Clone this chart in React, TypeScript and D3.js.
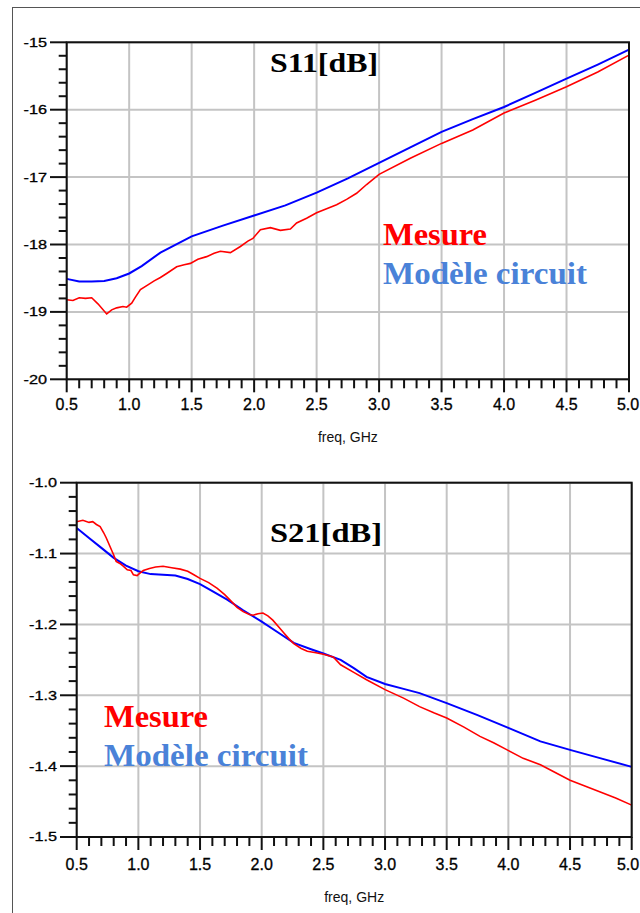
import React from "react";
import * as d3 from "d3";

// ---------- DATA ----------
const freqTicks = [0.5, 1.0, 1.5, 2.0, 2.5, 3.0, 3.5, 4.0, 4.5, 5.0];
const s11Ticks = [-15, -16, -17, -18, -19, -20];
const s21Ticks = [-1.0, -1.1, -1.2, -1.3, -1.4, -1.5];

const s11ModelFreq = [0.5, 0.6, 0.7, 0.8, 0.9, 1.0, 1.1, 1.25, 1.5, 1.75, 2.0, 2.25, 2.5, 2.75, 3.0, 3.25, 3.5, 3.75, 4.0, 4.25, 4.5, 4.75, 5.0];
const s11Model = [-18.51, -18.55, -18.55, -18.54, -18.5, -18.43, -18.32, -18.12, -17.88, -17.72, -17.57, -17.42, -17.23, -17.02, -16.79, -16.56, -16.33, -16.14, -15.96, -15.75, -15.54, -15.33, -15.11];

const s11MesureFreq = [0.5, 0.55, 0.6, 0.65, 0.7, 0.75, 0.82, 0.86, 0.9, 0.95, 0.98, 1.02, 1.05, 1.09, 1.15, 1.2, 1.25, 1.3, 1.38, 1.44, 1.49, 1.55, 1.62, 1.68, 1.73, 1.81, 1.89, 1.95, 1.99, 2.05, 2.13, 2.21, 2.29, 2.34, 2.42, 2.5, 2.58, 2.66, 2.74, 2.82, 2.9, 3.0, 3.25, 3.5, 3.75, 4.0, 4.25, 4.5, 4.75, 5.0];
const s11Mesure = [-18.82, -18.83, -18.79, -18.8, -18.79, -18.88, -19.03, -18.97, -18.94, -18.92, -18.93, -18.87, -18.78, -18.67, -18.6, -18.54, -18.49, -18.43, -18.33, -18.3, -18.28, -18.22, -18.18, -18.13, -18.1, -18.12, -18.03, -17.95, -17.91, -17.78, -17.75, -17.79, -17.77, -17.68, -17.61, -17.53, -17.47, -17.41, -17.33, -17.24, -17.11, -16.96, -16.72, -16.5, -16.3, -16.05, -15.86, -15.66, -15.44, -15.19];

const s21ModelFreq = [0.5, 0.6, 0.7, 0.8, 0.9, 1.0, 1.1, 1.2, 1.3, 1.4, 1.5, 1.6, 1.72, 1.85, 2.0, 2.13, 2.26, 2.4, 2.5, 2.64, 2.75, 2.85, 3.0, 3.15, 3.28, 3.5, 3.75, 4.0, 4.26, 4.5, 4.75, 5.0];
const s21Model = [-1.064, -1.078, -1.092, -1.106, -1.117, -1.125, -1.129, -1.13, -1.131, -1.136, -1.143, -1.153, -1.165, -1.18, -1.196, -1.211, -1.226, -1.235, -1.241, -1.25, -1.262, -1.274, -1.284, -1.291, -1.297, -1.311, -1.328, -1.346, -1.365, -1.377, -1.389, -1.401];

const s21MesureFreq = [0.5, 0.55, 0.6, 0.63, 0.66, 0.69, 0.72, 0.74, 0.77, 0.8, 0.82, 0.85, 0.88, 0.91, 0.94, 0.96, 0.99, 1.01, 1.04, 1.09, 1.14, 1.2, 1.27, 1.34, 1.4, 1.45, 1.5, 1.57, 1.64, 1.7, 1.74, 1.8, 1.85, 1.9, 1.93, 1.97, 2.01, 2.05, 2.09, 2.14, 2.18, 2.22, 2.26, 2.32, 2.37, 2.44, 2.5, 2.58, 2.64, 2.75, 2.85, 3.0, 3.15, 3.28, 3.4, 3.5, 3.64, 3.77, 3.88, 3.99, 4.12, 4.26, 4.38, 4.5, 4.62, 4.74, 4.87, 5.0];
const s21Mesure = [-1.055, -1.053, -1.056, -1.055, -1.059, -1.062, -1.071, -1.078, -1.09, -1.102, -1.111, -1.114, -1.118, -1.123, -1.124, -1.13, -1.131, -1.128, -1.124, -1.121, -1.119, -1.118, -1.12, -1.122, -1.125, -1.13, -1.135, -1.141, -1.149, -1.158, -1.165, -1.176, -1.182, -1.186, -1.187, -1.185, -1.184, -1.188, -1.194, -1.204, -1.212, -1.22, -1.227, -1.234, -1.238, -1.24, -1.242, -1.246, -1.257, -1.268, -1.278, -1.292, -1.304, -1.316, -1.325, -1.332, -1.345, -1.358, -1.367, -1.377, -1.389, -1.398, -1.409, -1.42, -1.428, -1.436, -1.445, -1.455];

const legendMesure = "Mesure";
const legendModel = "Modèle circuit";
const xTitle = "freq, GHz";

// ---------- PANEL ----------
type PanelProps = {
  left: number; right: number; top: number; bottom: number;
  yDomain: [number, number]; yTicks: number[]; yMinor: number; yFmt: (v: number) => string;
  yLabelX: number; majorTickLeft: number;
  xLabelBaseline: number; xTitleBaseline: number;
  title: string; titleX: number; titleBaseline: number; titleLen: number;
  legX: number; legY1: number; legY2: number;
  mesF: number[]; mes: number[]; modF: number[]; mod: number[];
};

const sans = "'Liberation Sans', Arial, sans-serif";
const serif = "'Liberation Serif', 'Times New Roman', serif";

function Panel(p: PanelProps) {
  const x = d3.scaleLinear().domain([0.5, 5.0]).range([p.left, p.right]);
  const y = d3.scaleLinear().domain(p.yDomain).range([p.bottom, p.top]);
  const line = d3.line<[number, number]>().x((d) => x(d[0])).y((d) => y(d[1]));
  const mesPts = p.mesF.map((f, i) => [f, p.mes[i]] as [number, number]);
  const modPts = p.modF.map((f, i) => [f, p.mod[i]] as [number, number]);
  const xMinor = d3.range(0.5, 5.0001, 0.1).filter((v) => Math.abs(v * 2 - Math.round(v * 2)) > 1e-6);
  const [y0, y1] = p.yDomain;
  const yMinorVals = d3.range(y0, y1 + 1e-9, p.yMinor).filter((v) => !p.yTicks.some((t) => Math.abs(t - v) < 1e-6));
  const grid = "#c4c4c4";
  return (
    <g>
      {freqTicks.map((f) => (
        <line key={"gx" + f} x1={x(f)} x2={x(f)} y1={p.top} y2={p.bottom} stroke={grid} strokeWidth={2} />
      ))}
      {p.yTicks.map((t) => (
        <line key={"gy" + t} x1={p.left} x2={p.right} y1={y(t)} y2={y(t)} stroke={grid} strokeWidth={2} />
      ))}
      <path d={line(modPts) || ""} fill="none" stroke="#0000ff" strokeWidth={2} />
      <path d={line(mesPts) || ""} fill="none" stroke="#ff0000" strokeWidth={1.6} />
      <rect x={p.left} y={p.top} width={p.right - p.left} height={p.bottom - p.top} fill="none" stroke="#111" strokeWidth={2} />
      {p.yTicks.map((t) => (
        <g key={"yt" + t}>
          <line x1={p.majorTickLeft} x2={p.left} y1={y(t)} y2={y(t)} stroke="#111" strokeWidth={2} />
          <text
            transform={`translate(${p.yLabelX},${y(t)}) scale(1.25,1)`}
            textAnchor="end"
            dominantBaseline="central"
            fontFamily={sans}
            fontSize={13}
            fill="#000"
            stroke="#000"
            strokeWidth={0.3}
          >
            {p.yFmt(t)}
          </text>
        </g>
      ))}
      {yMinorVals.map((v, i) => (
        <line key={"ym" + i} x1={p.left - 8} x2={p.left} y1={y(v)} y2={y(v)} stroke="#111" strokeWidth={2} />
      ))}
      {freqTicks.map((f) => {
        const cx = Math.min(x(f), 628);
        return (
          <g key={"xt" + f}>
            <line x1={x(f)} x2={x(f)} y1={p.bottom} y2={p.bottom + 13} stroke="#111" strokeWidth={2} />
            <text x={cx} y={p.xLabelBaseline} textAnchor="middle" fontFamily={sans} fontSize={16} fill="#000" stroke="#000" strokeWidth={0.3}>
              {f.toFixed(1)}
            </text>
          </g>
        );
      })}
      {xMinor.map((v, i) => (
        <line key={"xm" + i} x1={x(v)} x2={x(v)} y1={p.bottom} y2={p.bottom + 9} stroke="#111" strokeWidth={2} />
      ))}
      <text x={(p.left + p.right) / 2} y={p.xTitleBaseline} textAnchor="middle" fontFamily={sans} fontSize={14} fill="#111">
        {xTitle}
      </text>
      <text x={p.titleX} y={p.titleBaseline} fontFamily={serif} fontWeight="bold" fontSize={28} fill="#000" textLength={p.titleLen} lengthAdjust="spacingAndGlyphs">
        {p.title}
      </text>
      <text x={p.legX} y={p.legY1} fontFamily={serif} fontWeight="bold" fontSize={31} fill="#ff0000" textLength={104} lengthAdjust="spacingAndGlyphs">
        {legendMesure}
      </text>
      <text x={p.legX} y={p.legY2} fontFamily={serif} fontWeight="bold" fontSize={31} fill="#4a82d8" textLength={204} lengthAdjust="spacingAndGlyphs">
        {legendModel}
      </text>
    </g>
  );
}

export default function App() {
  return (
    <svg width={640} height={913} style={{ position: "absolute", left: 0, top: 0, background: "#fff" }}>
      <rect x={0} y={0} width={640} height={913} fill="#fff" />
      <line x1={12.5} x2={12.5} y1={7} y2={913} stroke="#555" strokeWidth={1} />
      <line x1={12} x2={640} y1={7.5} y2={7.5} stroke="#555" strokeWidth={1} />
      <Panel
        left={66.7} right={629} top={42.3} bottom={379.3}
        yDomain={[-20, -15]} yTicks={s11Ticks} yMinor={0.2} yFmt={(v) => String(v)}
        yLabelX={47} majorTickLeft={50}
        xLabelBaseline={410} xTitleBaseline={442}
        title="S11[dB]" titleX={270} titleBaseline={72} titleLen={108}
        legX={383} legY1={245} legY2={284}
        mesF={s11MesureFreq} mes={s11Mesure} modF={s11ModelFreq} mod={s11Model}
      />
      <Panel
        left={76.7} right={631.7} top={482.7} bottom={837}
        yDomain={[-1.5, -1.0]} yTicks={s21Ticks} yMinor={0.02} yFmt={(v) => v.toFixed(1)}
        yLabelX={57} majorTickLeft={60}
        xLabelBaseline={870} xTitleBaseline={902}
        title="S21[dB]" titleX={270} titleBaseline={542} titleLen={112}
        legX={104} legY1={727} legY2={766}
        mesF={s21MesureFreq} mes={s21Mesure} modF={s21ModelFreq} mod={s21Model}
      />
    </svg>
  );
}
